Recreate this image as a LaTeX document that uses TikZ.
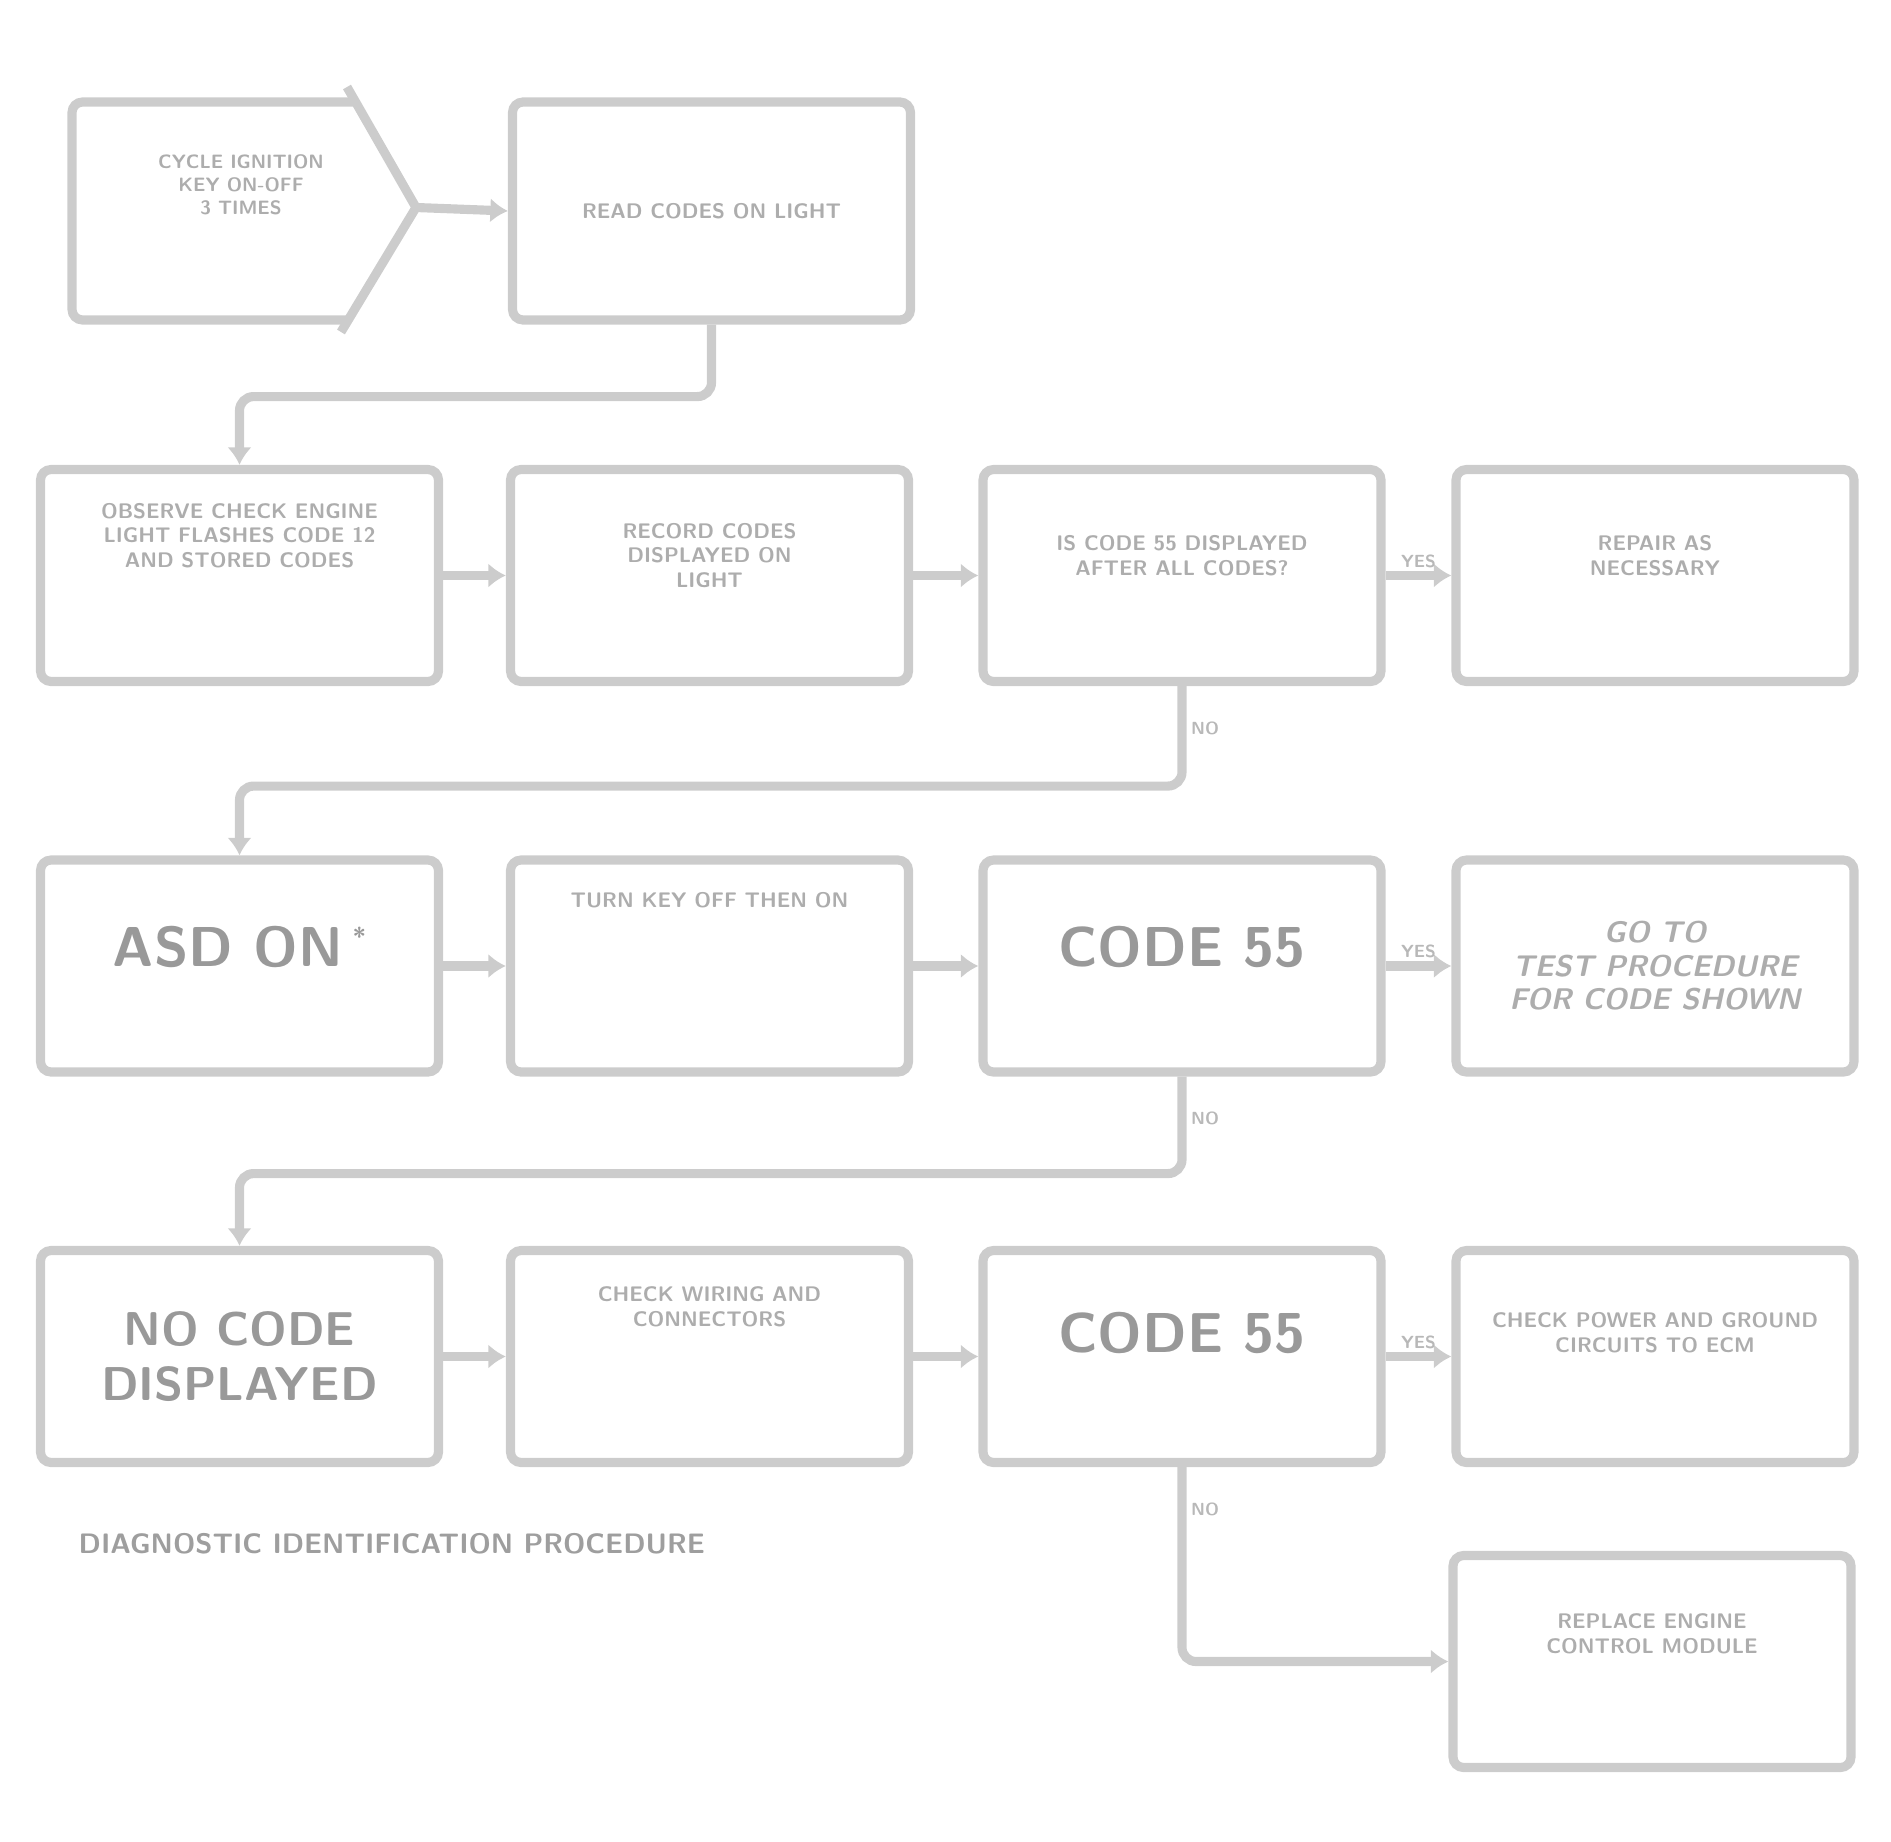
\documentclass[tikz,border=0pt]{standalone}
\usetikzlibrary{arrows.meta, calc, positioning}

\tikzset{
	box/.style={draw=black!20, line width=2.6pt, rounded corners=3pt, minimum width=3.98cm, minimum height=2.12cm},
	link/.style={draw=black!20, line width=2.6pt, rounded corners=4pt, -{Latex[length=5pt,width=7pt]}},
	txt/.style={text=black!32, font=\sffamily\bfseries\fontsize{6}{7}\selectfont, align=center, inner sep=0pt},
	big/.style={text=black!40, font=\sffamily\bfseries\fontsize{16}{18}\selectfont, align=center, inner sep=0pt},
	tag/.style={text=black!28, font=\sffamily\bfseries\tiny, inner sep=1pt},
}

\begin{document}
\begin{tikzpicture}
	\useasboundingbox (0,0) rectangle (18.91,-18.42);
	
	% Start symbol
	\coordinate (tip) at (4.16,-2.075);
	\draw[draw=black!20, line width=2.6pt, rounded corners=3pt] (3.55,-1.02) -- (0.72,-1.02) -- (0.72,-3.20) -- (3.48,-3.20);
	\draw[draw=black!20, line width=2.6pt, line join=round] (3.47,-0.87) -- (tip) -- (3.41,-3.32);
	\node[txt, font=\sffamily\bfseries\fontsize{5.5}{6.5}\selectfont] (starttxt) at (2.41,-1.85) {CYCLE IGNITION\\ KEY ON-OFF\\ 3 TIMES};
	
	% Boxes
	\node[box, minimum height=2.18cm] (b1) at (7.115,-2.11) {};
	
	\node[box] (a2) at (2.395,-5.755) {};
	\node[box] (b2) at (7.095,-5.755) {};
	\node[box] (c2) at (11.82,-5.755) {};
	\node[box] (d2) at (16.55,-5.755) {};
	
	\node[box] (a3) at (2.395,-9.66) {};
	\node[box] (b3) at (7.095,-9.66) {};
	\node[box] (c3) at (11.82,-9.66) {};
	\node[box] (d3) at (16.55,-9.66) {};
	
	\node[box] (a4) at (2.395,-13.565) {};
	\node[box] (b4) at (7.095,-13.565) {};
	\node[box] (c4) at (11.82,-13.565) {};
	\node[box] (d4) at (16.55,-13.565) {};
	
	\node[box] (d5) at (16.52,-16.615) {};
	
	% Texts
	\node[txt] (b1txt) at (b1) {READ CODES ON LIGHT};
	\node[txt, yshift=0.4cm] (a2txt) at (a2) {OBSERVE CHECK ENGINE\\ LIGHT FLASHES CODE 12\\ AND STORED CODES};
	\node[txt, yshift=0.2cm] (b2txt) at (b2) {RECORD CODES\\ DISPLAYED ON\\ LIGHT};
	\node[txt, yshift=0.2cm] (c2txt) at (c2) {IS CODE 55 DISPLAYED\\ AFTER ALL CODES?};
	\node[txt, yshift=0.2cm] (d2txt) at (d2) {REPAIR AS\\ NECESSARY};
	
	\node[big, yshift=0.19cm] (a3txt) at (a3) {ASD ON\,\raisebox{0.8ex}{\scriptsize *}};
	\node[txt, yshift=0.66cm] (b3txt) at (b3) {TURN KEY OFF THEN ON};
	\node[big, yshift=0.19cm] (c3txt) at (c3) {CODE 55};
	\node[txt, font=\sffamily\bfseries\itshape\fontsize{8.5}{9.5}\selectfont] (d3txt) at (d3) {GO TO\\ TEST PROCEDURE\\ FOR CODE SHOWN};
	
	\node[big, font=\sffamily\bfseries\fontsize{13.5}{15.5}\selectfont] (a4txt) at (a4) {NO CODE\\ DISPLAYED};
	\node[txt, yshift=0.5cm] (b4txt) at (b4) {CHECK WIRING AND\\ CONNECTORS};
	\node[big, yshift=0.24cm] (c4txt) at (c4) {CODE 55};
	\node[txt, yshift=0.24cm] (d4txt) at (d4) {CHECK POWER AND GROUND\\ CIRCUITS TO ECM};
	\node[txt, yshift=0.28cm] (d5txt) at (d5) {REPLACE ENGINE\\ CONTROL MODULE};
	
	\node[font=\sffamily\bfseries\footnotesize, text=black!38, anchor=west, inner sep=0pt] (title) at (0.78,-15.44) {DIAGNOSTIC IDENTIFICATION PROCEDURE};
	
	% Connectors
	\draw[link] (tip) -- (b1.west);
	\draw[link] (b1.south) -- ++(0,-0.72) -| (a2.north);
	
	\draw[link] (a2) -- (b2);
	\draw[link] (b2) -- (c2);
	\draw[link] (c2) -- (d2) node[tag, midway, above] {YES};
	\draw[link] (c2.south) -- ++(0,-1.0) -| (a3.north);
	\node[tag, right] (no1) at ($(c2.south)+(0.05,-0.42)$) {NO};
	
	\draw[link] (a3) -- (b3);
	\draw[link] (b3) -- (c3);
	\draw[link] (c3) -- (d3) node[tag, midway, above] {YES};
	\draw[link] (c3.south) -- ++(0,-0.97) -| (a4.north);
	\node[tag, right] (no2) at ($(c3.south)+(0.05,-0.42)$) {NO};
	
	\draw[link] (a4) -- (b4);
	\draw[link] (b4) -- (c4);
	\draw[link] (c4) -- (d4) node[tag, midway, above] {YES};
	\draw[link] (c4.south) |- (d5.west);
	\node[tag, right] (no3) at ($(c4.south)+(0.05,-0.42)$) {NO};
\end{tikzpicture}
\end{document}
